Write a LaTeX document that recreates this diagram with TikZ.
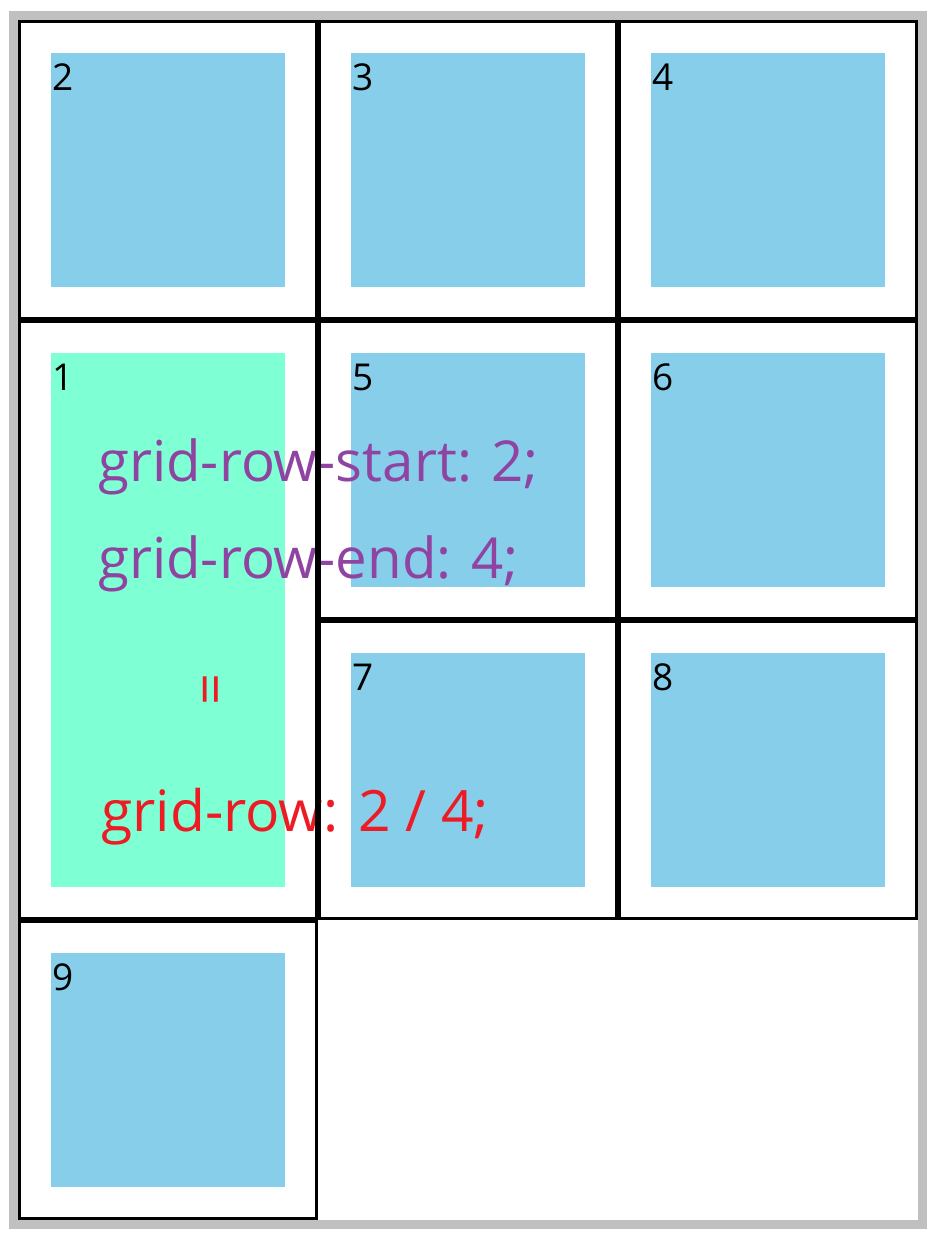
\documentclass[tikz,border=0pt]{standalone}
\usepackage{fontspec}
\setmainfont{Open Sans}
\usepackage{xcolor}
\usetikzlibrary{positioning}
\definecolor{itemblue}{RGB}{135,206,235}
\definecolor{spangreen}{RGB}{127,255,212}
\definecolor{framegray}{RGB}{192,192,192}
\definecolor{notepurple}{RGB}{142,68,160}
\definecolor{notered}{RGB}{237,28,36}

\begin{document}
\begin{tikzpicture}[
        x=1pt, y=-1pt,
        cellframe/.style={draw, line width=3pt, minimum width=297pt, minimum height=#1, inner sep=0pt},
        cellframe/.default=297pt,
        itembox/.style={fill=#1, minimum width=234pt, minimum height=234pt, inner sep=0pt},
        numlabel/.style={anchor=base west, inner sep=0pt, font=\fontsize{37}{40}\selectfont},
        note/.style={anchor=base west, inner sep=0pt, text=#1, font=\fontsize{56.4}{60}\selectfont}
    ]
        \useasboundingbox (0,0) rectangle (937,1241);

        % Outer container
        \draw[framegray, line width=9pt] (13.5,15.5) rectangle (922.5,1224.5);

        % Grid items (number/column/row)
        \foreach \n/\c/\r in {2/0/0, 3/1/0, 4/2/0, 5/1/1, 6/2/1, 7/1/2, 8/2/2, 9/0/3} {
            \node[itembox=itemblue] (item\n) at ({168+300*\c},{170+300*\r}) {};
            \node[numlabel] (num\n) at ([shift={(1,38)}]item\n.north west) {\n};
        }

        % Spanning item
        \node[itembox=spangreen, minimum height=534pt] (item1) at (168,620) {};
        \node[numlabel] (num1) at ([shift={(1,38)}]item1.north west) {1};

        % Notes
        \node[note=notepurple] (start) at (98,481) {grid-row-start: 2;};
        \node[note=notepurple] (end) at (98,578) {grid-row-end: 4;};
        \node[text=notered, rotate=90, inner sep=0pt, font=\fontsize{56}{58}\selectfont] (eq) at (217,689) {=};
        \node[note=notered, font=\fontsize{57}{60}\selectfont] (short) at (101,831) {grid-row: 2 / 4;};

        % Cell frames
        \foreach \n/\c/\r in {2/0/0, 3/1/0, 4/2/0, 5/1/1, 6/2/1, 7/1/2, 8/2/2, 9/0/3} {
            \node[cellframe] (cell\n) at ({168+300*\c},{170+300*\r}) {};
        }
        \node[cellframe=597pt] (cell1) at (168,620) {};

    \end{tikzpicture}
\end{document}
